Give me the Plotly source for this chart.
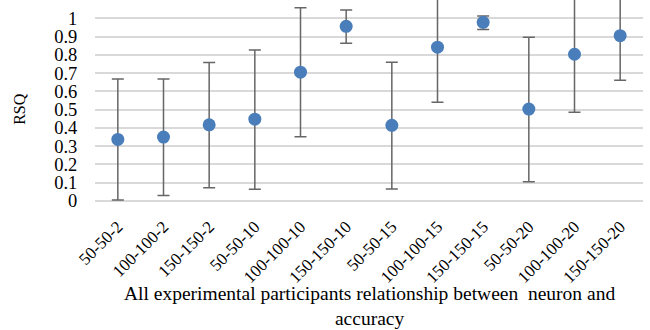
import plotly.graph_objects as go

categories = ["50-50-2", "100-100-2", "150-150-2", "50-50-10", "100-100-10", "150-150-10",
              "50-50-15", "100-100-15", "150-150-15", "50-50-20", "100-100-20", "150-150-20"]
rsq = [0.337, 0.350, 0.417, 0.448, 0.705, 0.956, 0.414, 0.842, 0.978, 0.503, 0.803, 0.905]
err_plus = [0.330, 0.317, 0.341, 0.379, 0.353, 0.089, 0.346, 0.300, 0.035, 0.393, 0.317, 0.244]
err_minus = [0.332, 0.320, 0.344, 0.384, 0.354, 0.093, 0.348, 0.301, 0.040, 0.398, 0.317, 0.244]
y_ticks = [0, 0.1, 0.2, 0.3, 0.4, 0.5, 0.6, 0.7, 0.8, 0.9, 1]
y_ticklabels = ["0", "0.1", "0.2", "0.3", "0.4", "0.5", "0.6", "0.7", "0.8", "0.9", "1"]

font_family = "Liberation Serif, Times New Roman, serif"

fig = go.Figure()
fig.add_trace(go.Scatter(
    x=categories, y=rsq, mode="markers",
    marker=dict(color="#4a7ebb", size=13),
    error_y=dict(type="data", symmetric=False, array=err_plus, arrayminus=err_minus,
                 color="#666666", thickness=1.5, width=6),
    cliponaxis=True,
    showlegend=False,
))

fig.update_layout(
    width=650, height=330,
    margin=dict(l=95, r=7, t=0, b=129),
    paper_bgcolor="white", plot_bgcolor="white",
    font=dict(family=font_family, size=18, color="#000000"),
    xaxis=dict(
        type="category", range=[-0.5, len(categories) - 0.5],
        tickangle=-45, showgrid=False, showline=False, zeroline=False,
        tickfont=dict(size=17), ticks="outside", ticklen=8, tickcolor="rgba(0,0,0,0)",
        automargin=False,
    ),
    yaxis=dict(
        range=[0, 1.1], tickvals=y_ticks, ticktext=y_ticklabels,
        showgrid=True, gridcolor="#d9d9d9", gridwidth=1.6,
        zeroline=True, zerolinecolor="#d9d9d9", zerolinewidth=1.6,
        showline=False, ticks="outside", ticklen=13, tickcolor="rgba(0,0,0,0)",
        tickfont=dict(size=18.5), automargin=False,
    ),
    annotations=[
        dict(text="RSQ", xref="paper", yref="paper", x=-0.137, y=0.458,
             xanchor="center", yanchor="middle", textangle=-90, showarrow=False,
             font=dict(size=16)),
        dict(text="All experimental participants relationship between  neuron and<br>accuracy",
             xref="paper", yref="paper", x=0.5, y=-0.40, xanchor="center", yanchor="top",
             showarrow=False, font=dict(size=19.5)),
    ],
)

fig.write_html("out.html", post_script="document.body.style.margin='0px';",
               config={"displayModeBar": False})
